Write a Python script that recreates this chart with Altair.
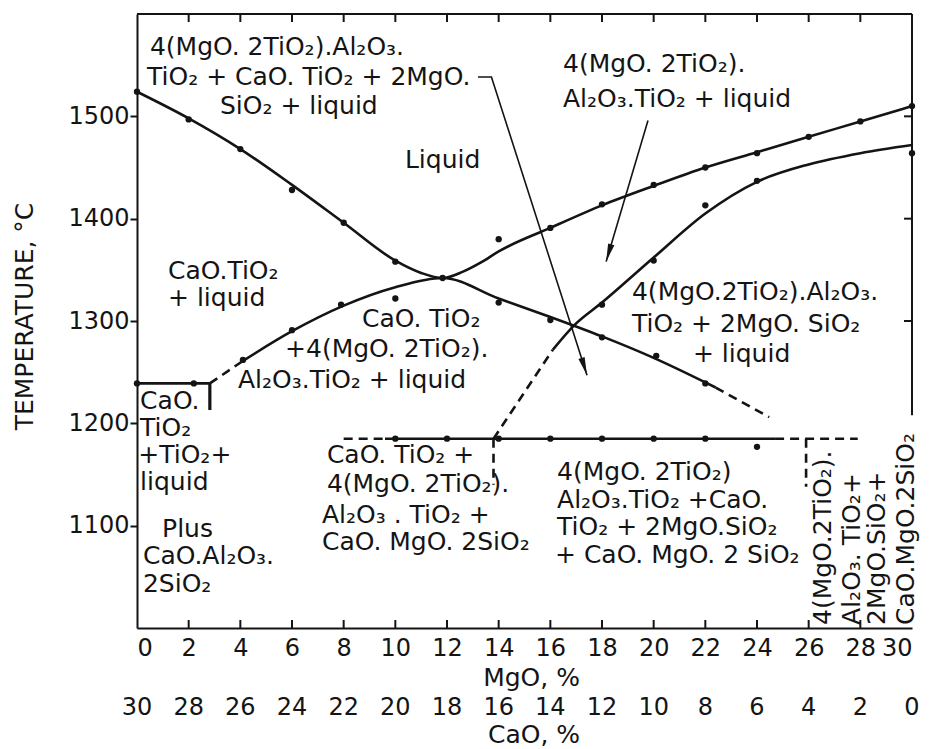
import math
import altair as alt
import pandas as pd

# ---- axes -------------------------------------------------------------
X_MIN, X_MAX = 0, 30          # MgO, %
T_MIN, T_MAX = 1000, 1600     # temperature, degC
mgo_ticks = [0, 2, 4, 6, 8, 10, 12, 14, 16, 18, 20, 22, 24, 26, 28, 30]
cao_ticks = [30, 28, 26, 24, 22, 20, 18, 16, 14, 12, 10, 8, 6, 4, 2, 0]
temp_ticks = [1100, 1200, 1300, 1400, 1500]
inner_ticks = [2, 4, 6, 8, 10, 12, 14, 16, 18, 20, 22, 24, 26, 28]
right_ticks = [1300, 1400, 1500]

W, H = 775, 614
FONT = "DejaVu Sans"
INK = "#141414"
TICK_FS = 24
TEXT_FS = 25

# ---- boundary curves ----------------------------------------------------
# liquidus (U-shaped, minimum where it meets the CaO.TiO2 boundary)
liq_mgo = [0, 2, 4, 6, 8, 10, 11, 11.83, 12.6, 13.3, 14, 16, 18, 20, 22, 24, 26, 28, 30]
liq_t = [1524, 1498, 1468, 1433, 1396, 1359, 1347, 1342, 1348, 1357, 1368, 1391, 1413,
         1432, 1450, 1465, 1480, 1495, 1510]

# CaO.TiO2 / 4(MgO.2TiO2).Al2O3.TiO2 boundary
cap_mgo = [4.1, 6, 8, 10, 11.83, 14, 16, 18, 20, 22, 22.4]
cap_t = [1261, 1290, 1315, 1333, 1342, 1322, 1304, 1285, 1264, 1240, 1235]

# 2MgO.SiO2 boundary
fo_mgo = [16.1, 16.93, 18, 20, 22, 24, 26, 28, 30]
fo_t = [1272, 1296, 1318, 1362, 1405, 1436, 1453, 1464, 1472]

# straight solid segments: (mgo pair, temperature pair, stroke width)
solid_segments = {
    "eutectic_left": ([0, 2.82], [1239, 1239], 2.6),
    "eutectic_left_end": ([2.82, 2.82], [1239, 1213], 3.2),
    "solidus": ([9.6, 24.7], [1185, 1185], 2.6),
    "frame_top": ([0, 30], [1600, 1600], 2.0),
    "frame_right": ([30, 30], [1600, 1208], 2.0),
}
# straight dashed segments
dashed_segments = {
    "solidus_left": ([8, 9.6], [1185, 1185]),
    "solidus_right": ([24.7, 27.9], [1185, 1185]),
    "drop_14": ([13.8, 13.8], [1185, 1140]),
    "drop_26": ([25.9, 25.9], [1185, 1138]),
    "cap_left": ([2.82, 4.1], [1239, 1261]),
    "cap_right": ([22.4, 24.47], [1235, 1206]),
    "fo_left": ([13.8, 16.1], [1185, 1272]),
}

# ---- experimental points ------------------------------------------------
dot_mgo = [0, 2, 4, 6, 8, 10, 11.83, 14, 16, 18, 20, 22, 24, 26, 28, 30,
           4.1, 6, 7.9, 10, 14, 16, 18, 20.1, 22,
           18, 20, 22, 24, 30,
           0, 2.2,
           10, 12, 14, 16, 18, 20, 22, 24]
dot_t = [1524, 1497, 1468, 1428, 1396, 1358, 1342, 1380, 1391, 1414, 1433, 1450, 1464, 1480, 1495, 1510,
         1262, 1291, 1316, 1322, 1318, 1301, 1284, 1266, 1239,
         1316, 1359, 1413, 1437, 1464,
         1239, 1239,
         1185, 1185, 1185, 1185, 1185, 1185, 1185, 1177]

# ---- pointer arrows ---------------------------------------------------------
arrow1_mgo = [13.2, 13.72, 17.42]
arrow1_t = [1538.5, 1538.5, 1247]
arrow2_mgo = [19.78, 18.16]
arrow2_t = [1496, 1358]

# ---- phase field labels (left edge, baseline) --------------------------------
label_text = [
    "4(MgO. 2TiO₂).Al₂O₃.", "TiO₂ + CaO. TiO₂ + 2MgO.", "SiO₂  + liquid",
    "Liquid",
    "4(MgO. 2TiO₂).", "Al₂O₃.TiO₂ + liquid",
    "CaO.TiO₂", "+ liquid",
    "CaO. TiO₂", "+4(MgO. 2TiO₂).", "Al₂O₃.TiO₂ + liquid",
    "4(MgO.2TiO₂).Al₂O₃.", "TiO₂ + 2MgO. SiO₂", "+ liquid",
    "CaO.", "TiO₂", "+TiO₂+", "liquid", "Plus", "CaO.Al₂O₃.", "2SiO₂",
    "CaO. TiO₂ +", "4(MgO. 2TiO₂).", "Al₂O₃ . TiO₂ +", "CaO. MgO. 2SiO₂",
    "4(MgO. 2TiO₂)", "Al₂O₃.TiO₂ +CaO.", "TiO₂ + 2MgO.SiO₂", "+ CaO. MgO. 2 SiO₂",
]
label_mgo = [0.50, 0.39, 3.21,
             10.37,
             16.49, 16.49,
             1.20, 1.20,
             8.71, 5.73, 3.91,
             19.16, 19.16, 21.52,
             0.12, 0.12, 0.05, 0.12, 0.97, 0.23, 0.23,
             7.35, 7.35, 7.16, 7.16,
             16.26, 16.26, 16.26, 16.18]
label_t = [1560.0, 1530.6, 1502.3,
           1449.5,
           1543.3, 1509.1,
           1341.0, 1314.7,
           1294.1, 1264.8, 1234.5,
           1320.5, 1289.3, 1259.9,
           1214.0, 1187.6, 1161.2, 1134.9, 1088.9, 1062.5, 1035.2,
           1161.2, 1132.9, 1102.6, 1076.2,
           1144.6, 1117.3, 1090.9, 1063.5]

# upright labels along the MgO-rich edge (read bottom to top)
vlabel_text = ["4(MgO.2TiO₂).", "Al₂O₃. TiO₂+", "2MgO.SiO₂+", "CaO.MgO.2SiO₂"]
vlabel_mgo = [26.56, 27.68, 28.65, 29.77]
vlabel_t = [1003, 1003, 1003, 1003]

# ---- encodings ---------------------------------------------------------------
x_enc = alt.X(
    "mgo:Q",
    scale=alt.Scale(domain=[X_MIN, X_MAX], nice=False, zero=False),
    axis=alt.Axis(
        values=mgo_ticks, ticks=False, grid=False, labelPadding=8, format="d",
        labelFont=FONT, labelFontSize=TICK_FS, labelColor=INK,
        domainColor=INK, domainWidth=2,
        title="MgO, %", titleFont=FONT, titleFontSize=TEXT_FS, titleFontWeight="normal",
        titleColor=INK, titleX=394, titleY=57, titleBaseline="alphabetic",
    ),
)
y_enc = alt.Y(
    "t:Q",
    scale=alt.Scale(domain=[T_MIN, T_MAX], nice=False, zero=False),
    axis=alt.Axis(
        values=temp_ticks, tickSize=7, tickWidth=2, tickColor=INK, grid=False,
        labelPadding=1, format="d", labelFont=FONT, labelFontSize=TICK_FS, labelColor=INK,
        domainColor=INK, domainWidth=2,
        title="TEMPERATURE, °C", titleFont=FONT, titleFontSize=TEXT_FS,
        titleFontWeight="normal", titleColor=INK,
        titleX=-113, titleY=302, titleBaseline="middle",
    ),
)


def series(name, xs, ts, **extra):
    rows = []
    for i, (a, b) in enumerate(zip(xs, ts)):
        row = {"seg": name, "order": i, "mgo": a, "t": b}
        row.update(extra)
        rows.append(row)
    return rows


# smooth boundary curves
curve_rows = (series("liquidus", liq_mgo, liq_t)
              + series("cao_tio2", cap_mgo, cap_t)
              + series("forsterite", fo_mgo, fo_t))
curves = alt.Chart(pd.DataFrame(curve_rows)).mark_line(
    interpolate="monotone", color=INK, strokeWidth=2.6
).encode(x=x_enc, y=y_enc, detail="seg:N", order="order:Q")

solid_rows = []
for name, (xs, ts, w) in solid_segments.items():
    solid_rows += series(name, xs, ts, w=w)
solids = alt.Chart(pd.DataFrame(solid_rows)).mark_line(color=INK).encode(
    x=x_enc, y=y_enc, detail="seg:N", order="order:Q",
    strokeWidth=alt.StrokeWidth("w:Q", scale=None),
)

dash_rows = []
for name, (xs, ts) in dashed_segments.items():
    dash_rows += series(name, xs, ts)
dashes = alt.Chart(pd.DataFrame(dash_rows)).mark_line(
    color=INK, strokeWidth=2.6, strokeDash=[9, 6]
).encode(x=x_enc, y=y_enc, detail="seg:N", order="order:Q")

dots = alt.Chart(pd.DataFrame({"mgo": dot_mgo, "t": dot_t})).mark_circle(
    color=INK, size=40, opacity=1
).encode(x=x_enc, y=y_enc)

# arrows: shafts and heads
shaft_rows = series("a1", arrow1_mgo, arrow1_t) + series("a2", arrow2_mgo, arrow2_t)
shafts = alt.Chart(pd.DataFrame(shaft_rows)).mark_line(
    color=INK, strokeWidth=1.6
).encode(x=x_enc, y=y_enc, detail="seg:N", order="order:Q")

px_per_mgo = W / (X_MAX - X_MIN)
px_per_deg = H / (T_MAX - T_MIN)


def head_angle(xs, ts):
    dx = (xs[-1] - xs[-2]) * px_per_mgo
    dy = -(ts[-1] - ts[-2]) * px_per_deg
    return math.degrees(math.atan2(dx, -dy)) % 360


heads_df = pd.DataFrame({
    "mgo": [arrow1_mgo[-1], arrow2_mgo[-1]],
    "t": [arrow1_t[-1], arrow2_t[-1]],
    "ang": [head_angle(arrow1_mgo, arrow1_t), head_angle(arrow2_mgo, arrow2_t)],
})
heads = alt.Chart(heads_df).mark_point(
    shape="M0,0L0.36,2L-0.36,2Z", filled=True, color=INK, opacity=1, size=324, strokeWidth=0
).encode(x=x_enc, y=y_enc, angle=alt.Angle("ang:Q", scale=None))

# inward ticks on bottom, top and right edges
bottom_ticks = alt.Chart(pd.DataFrame({"mgo": inner_ticks})).mark_rule(
    color=INK, strokeWidth=2
).encode(x=x_enc, y=alt.value(H), y2=alt.value(H - 8))
top_ticks = alt.Chart(pd.DataFrame({"mgo": inner_ticks})).mark_rule(
    color=INK, strokeWidth=2
).encode(x=x_enc, y=alt.value(0), y2=alt.value(8))
side_ticks = alt.Chart(pd.DataFrame({"t": right_ticks})).mark_rule(
    color=INK, strokeWidth=2
).encode(y=y_enc, x=alt.value(W), x2=alt.value(W - 8))

# second composition scale (CaO) under the MgO scale
cao_labels = alt.Chart(pd.DataFrame({"mgo": mgo_ticks, "cao": [str(v) for v in cao_ticks]})).mark_text(
    font=FONT, fontSize=TICK_FS, color=INK, align="center", baseline="alphabetic"
).encode(x=x_enc, y=alt.value(H + 87), text="cao:N")
cao_title = alt.Chart(pd.DataFrame({"mgo": [15.37], "name": ["CaO, %"]})).mark_text(
    font=FONT, fontSize=TEXT_FS, color=INK, align="center", baseline="alphabetic"
).encode(x=x_enc, y=alt.value(H + 115), text="name:N")

labels = alt.Chart(pd.DataFrame({"mgo": label_mgo, "t": label_t, "label": label_text})).mark_text(
    font=FONT, fontSize=TEXT_FS, color=INK, align="left", baseline="alphabetic"
).encode(x=x_enc, y=y_enc, text="label:N")

vlabels = alt.Chart(pd.DataFrame({"mgo": vlabel_mgo, "t": vlabel_t, "label": vlabel_text})).mark_text(
    font=FONT, fontSize=TEXT_FS, color=INK, align="left", baseline="middle", angle=270
).encode(x=x_enc, y=y_enc, text="label:N")

chart = alt.layer(
    curves, solids, dashes, shafts, heads, dots,
    bottom_ticks, top_ticks, side_ticks,
    labels, vlabels, cao_labels, cao_title,
).properties(
    width=W, height=H,
    autosize=alt.AutoSizeParams(type="none"),
    padding={"left": 137, "top": 14, "right": 19, "bottom": 121},
    background="white",
).configure_view(strokeWidth=0)

chart.save("out.html", embed_options={"renderer": "svg", "actions": False})
